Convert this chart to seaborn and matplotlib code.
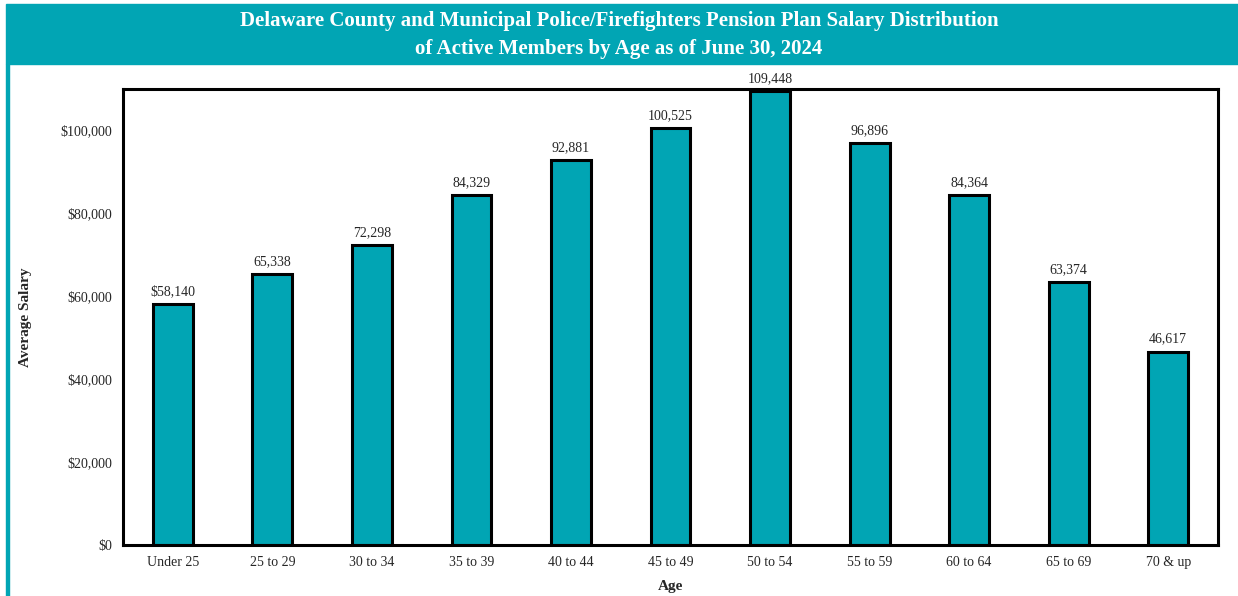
import pandas as pd
import seaborn as sns
import matplotlib.pyplot as plt
from matplotlib.patches import Rectangle
from matplotlib.ticker import FuncFormatter

sns.set_theme(style="white")
plt.rcParams['font.family'] = ['Liberation Serif', 'DejaVu Serif']

ages = ["Under 25", "25 to 29", "30 to 34", "35 to 39", "40 to 44", "45 to 49",
        "50 to 54", "55 to 59", "60 to 64", "65 to 69", "70 & up"]
salaries = [58140, 65338, 72298, 84329, 92881, 100525, 109448, 96896, 84364, 63374, 46617]

teal = "#01A5B4"
df = pd.DataFrame({"Age": ages, "Salary": salaries})

fig = plt.figure(figsize=(12.38, 5.96), dpi=100)
W, H = 1238, 596

# title banner and left rule
fig.patches.append(Rectangle((6 / W, 1 - 64 / H), 1 - 6 / W, 60 / H,
                             transform=fig.transFigure, color=teal, zorder=0))
fig.patches.append(Rectangle((6 / W, 0), 2.5 / W, 1 - 64 / H,
                             transform=fig.transFigure, color=teal, zorder=0))
fig.text(0.5, 1 - 35 / H,
         "Delaware County and Municipal Police/Firefighters Pension Plan Salary Distribution\n"
         "of Active Members by Age as of June 30, 2024",
         ha="center", va="center", color="white", fontsize=15, fontweight="bold",
         linespacing=1.55)

ax = fig.add_axes([123 / W, 1 - 545 / H, (1218 - 123) / W, (545 - 89) / H])
sns.barplot(data=df, x="Age", y="Salary", color=teal, width=0.4,
            edgecolor="black", linewidth=2.2, saturation=1, ax=ax)

ax.set_ylim(0, 110000)
ax.set_yticks(range(0, 100001, 20000))
ax.yaxis.set_major_formatter(FuncFormatter(lambda v, p: f"${v:,.0f}"))
ax.tick_params(axis="both", labelsize=10, length=0, pad=8)
ax.set_xlabel("Age", fontsize=11, fontweight="bold", labelpad=8)
ax.set_ylabel("Average Salary", fontsize=11, fontweight="bold", labelpad=20)

for s in ax.spines.values():
    s.set_linewidth(2.2)
    s.set_color("black")

for i, v in enumerate(salaries):
    lbl = f"${v:,}" if i == 0 else f"{v:,}"
    ax.text(i, v + 1500, lbl, ha="center", va="bottom", fontsize=10, clip_on=False)

fig.savefig("out.png", dpi=100)
